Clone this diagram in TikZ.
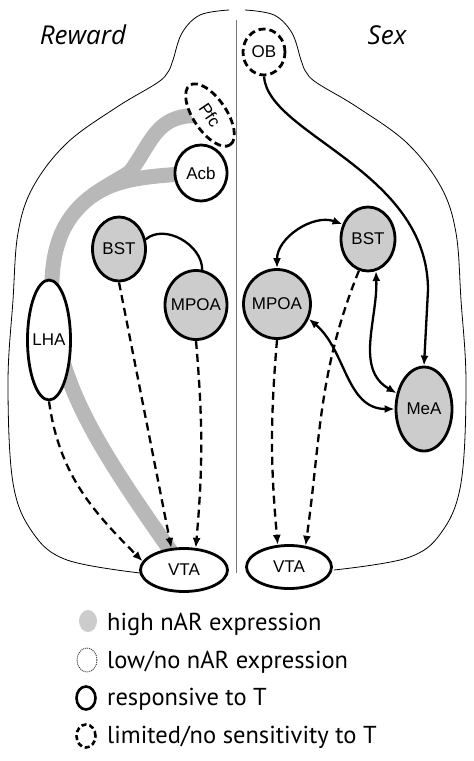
\documentclass[tikz,border=0pt]{standalone}
\usepackage{fontspec}
\setmainfont{Liberation Sans}
\newfontfamily\legfont{PT Sans}
\newfontfamily\titlefont{Open Sans}
\usetikzlibrary{shapes.geometric,arrows.meta}
\definecolor{nodegray}{RGB}{204,204,204}
\definecolor{bandgray}{RGB}{184,184,184}
\definecolor{midgray}{RGB}{120,120,120}
\newcommand{\zl}[1]{\makebox[0pt][c]{#1}}
\begin{document}
\begin{tikzpicture}[x=1pt,y=-1pt,
  region/.style={ellipse, draw, line width=2.8pt, inner sep=0pt, fill=white,
    font=\fontsize{17}{20}\selectfont},
  hi/.style={fill=nodegray},
  lim/.style={dash pattern=on 7pt off 4pt},
  band/.style={line width=15pt, draw=bandgray},
  tipL/.tip={Latex[length=10pt,width=8pt]},
  proj/.style={line width=2.3pt, -tipL},
  dproj/.style={proj, dash pattern=on 8pt off 5pt},
  biproj/.style={line width=2.3pt, tipL-tipL},
  title/.style={font=\titlefont\itshape\fontsize{26}{30}\selectfont, anchor=base, inner sep=0pt},
  legtext/.style={font=\legfont\fontsize{24.5}{28}\selectfont, anchor=base west, inner sep=0pt},
  keyshape/.style={ellipse, inner sep=0pt, minimum width=19pt, minimum height=23pt},
]
\useasboundingbox (0,0) rectangle (474,761);

% brain outline
\draw[line width=0.8pt] plot[smooth, tension=0.6] coordinates {(229,10) (200,15) (182,33) (173,60) (168,72) (157,83) (117,107) (67,143) (33,187) (18,233) (13,300) (8,383) (13,483) (33,533) (67,560) (140,573)};
\draw[line width=0.8pt] plot[smooth, tension=0.6] coordinates {(245,10) (274,15) (292,33) (301,60) (306,72) (317,83) (357,107) (407,143) (441,187) (456,233) (461,300) (466,383) (461,483) (441,533) (407,558) (334,570)};
\draw[midgray, line width=1pt] (236,20) -- (236,573);

% titles
\node[title] (tR) at (83,44) {Reward};
\node[title] (tS) at (387,44) {Sex};

% positions
\coordinate (cPfc) at (210,115);
\coordinate (cAcb) at (201,173);
\coordinate (cVTAl) at (184,570);
\coordinate (j) at (130,172);

% high nAR band (drawn below nodes)
\draw[band] (cPfc) -- (187,116) .. controls (155,120) and (150,145) .. (j)
   .. controls (100,192) and (55,205) .. (52,280)
   .. controls (50,380) and (100,450) .. (cVTAl);
\draw[band] (cAcb) .. controls (140,176) and (115,180) .. (92,196);

% reward side nodes
\node[region, lim, rotate=-56, minimum width=72pt, minimum height=33pt] (Pfc) at (cPfc) {\zl{Pfc}};
\node[region, minimum width=52pt, minimum height=56pt] (Acb) at (cAcb) {\zl{Acb}};
\node[region, hi, minimum width=53pt, minimum height=64pt] (BSTl) at (119,249) {\zl{BST}};
\node[region, hi, minimum width=62pt, minimum height=69pt] (MPOAl) at (196,305) {\zl{MPOA}};
\node[region, minimum width=43pt, minimum height=120pt] (LHA) at (49,340) {\zl{LHA}};
\node[region, minimum width=87pt, minimum height=43pt] (VTAl) at (cVTAl) {\zl{VTA}};

% sex side nodes
\node[region, lim, minimum width=42pt, minimum height=46pt] (OB) at (264,52) {\zl{OB}};
\node[region, hi, minimum width=54pt, minimum height=64pt] (BSTr) at (368,239) {\zl{BST}};
\node[region, hi, minimum width=67pt, minimum height=69pt] (MPOAr) at (277,304) {\zl{MPOA}};
\node[region, hi, minimum width=56pt, minimum height=84pt] (MeA) at (424,409) {\zl{MeA}};
\node[region, minimum width=85pt, minimum height=43pt] (VTAr) at (289,567) {\zl{VTA}};

% reward side connections
\draw[line width=2.3pt] (BSTl.20) to[out=40, in=90] (MPOAl.80);
\draw[dproj] (BSTl.south) -- (VTAl.120);
\draw[dproj] (MPOAl.south) to[bend left=5] (VTAl.62);
\draw[dproj] (LHA.south) to[out=-82, in=135] (VTAl.168);

% sex side connections
\draw[proj] (OB.south) .. controls (268,135) and (428,170) .. (428,290) -- (MeA.north);
\draw[biproj] (MPOAr.north) to[out=90, in=160] (BSTr.150);
\draw[biproj] (BSTr.-76) to[out=-88, in=150] (MeA.150);
\draw[biproj] (MPOAr.-25) to[out=-40, in=180] (MeA.west);
\draw[dproj] (MPOAr.south) to[bend right=5] (VTAr.117);
\draw[dproj] (BSTr.-106) to[out=-112, in=82] (VTAr.52);

% legend
\node[keyshape, fill=nodegray, minimum width=18pt, minimum height=22pt] (k1) at (88,621) {};
\node[keyshape, draw=black!75, dash pattern=on 1pt off 1pt, line width=1pt, minimum width=20pt, minimum height=24pt] (k2) at (87,660) {};
\node[keyshape, draw, line width=2.6pt] (k3) at (86,698) {};
\node[keyshape, draw, line width=2.6pt, dash pattern=on 5pt off 3pt] (k4) at (86,736) {};
\node[legtext] (t1) at (107,630) {high nAR expression};
\node[legtext] (t2) at (107,668) {low/no nAR expression};
\node[legtext] (t3) at (107,705) {responsive to T};
\node[legtext] (t4) at (107,743) {limited/no sensitivity to T};
\end{tikzpicture}
\end{document}
